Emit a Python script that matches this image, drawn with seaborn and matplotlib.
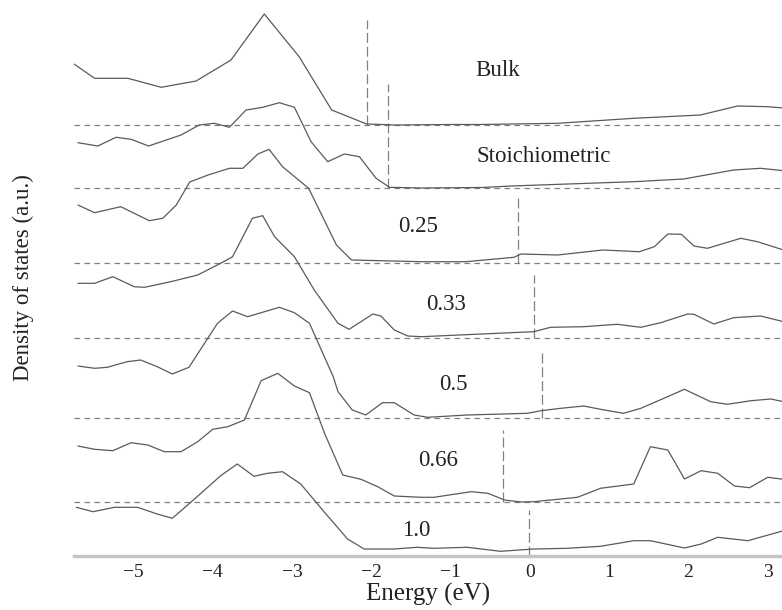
import numpy as np
import pandas as pd
import matplotlib
matplotlib.use("Agg")
import matplotlib.pyplot as plt
import seaborn as sns

# ---------------- data (energy in eV, DOS in arbitrary units) ----------------
labels = ["Bulk", "Stoichiometric", "0.25", "0.33", "0.5", "0.66", "1.0"]
offsets = [431, 368, 293, 218, 138, 54, 0]
fermi_E = [-2.06, -1.79, -0.155, 0.05, 0.15, -0.34, -0.01]
fermi_h = [105, 104, 65, 63, 66, 72, 46]

bulk_E = [-5.75, -5.49, -5.07, -4.65, -4.21, -3.77, -3.35, -2.91, -2.50, -2.06, -1.70,
          -1.00, -0.62, 0.35, 1.31, 2.15, 2.62, 3.00, 3.20]
bulk_dos = [61, 46.7, 46.7, 37.7, 44, 65, 111, 68.3, 15, 1, 0,
            0.5, 0.5, 1.7, 6.7, 10, 19, 18.3, 17]

stoich_E = [-5.70, -5.45, -5.22, -5.03, -4.81, -4.40, -4.17, -3.98, -3.79, -3.58, -3.37,
            -3.16, -2.97, -2.76, -2.55, -2.34, -2.15, -1.94, -1.77, -1.37, -0.60, -0.24,
            1.31, 1.94, 2.57, 2.91, 3.20]
stoich_dos = [45.3, 42, 50.7, 48.7, 42, 53, 63, 64.7, 60.7, 78, 80.7,
              85.3, 80.7, 46.3, 26.3, 34, 31.3, 9.7, 0.7, 0, 0.5, 2,
              6.3, 9, 18, 19.7, 17.3]

x025_E = [-5.70, -5.49, -5.16, -4.80, -4.63, -4.46, -4.29, -4.06, -3.79, -3.62, -3.43,
          -3.29, -3.12, -2.79, -2.44, -2.25, -1.37, -0.81, -0.20, -0.11, 0.35, 0.92,
          1.38, 1.57, 1.74, 1.91, 2.07, 2.24, 2.66, 2.87, 3.20]
x025_dos = [58, 50.3, 56.3, 42.3, 44.7, 58, 81, 88, 94.7, 94.7, 109,
            113.7, 96.3, 74.7, 18, 3, 1.3, 1.3, 5.7, 9, 8, 13,
            11.3, 16.3, 29, 28.7, 17, 14.7, 24.7, 21.3, 13]

x033_E = [-5.70, -5.49, -5.26, -4.99, -4.86, -4.53, -4.19, -3.90, -3.75, -3.50, -3.37,
          -3.22, -2.97, -2.72, -2.42, -2.28, -1.98, -1.88, -1.71, -1.54, -1.37, -0.24,
          0.05, 0.26, 0.68, 1.10, 1.40, 1.65, 1.99, 2.07, 2.32, 2.57, 2.91, 3.20]
x033_dos = [54.7, 54.7, 61.3, 51.3, 50.7, 56.3, 63, 74.7, 81.3, 119.7, 122.3,
            101.3, 81.3, 48, 14.7, 8.7, 24, 22, 8, 2, 1.3, 5.3,
            6.3, 10.7, 11.3, 13.7, 10.7, 15.3, 24, 23.7, 14, 20.3, 22, 16.3]

x05_E = [-5.70, -5.49, -5.33, -5.08, -4.91, -4.70, -4.51, -4.30, -3.94, -3.75, -3.56,
         -3.16, -2.97, -2.78, -2.48, -2.42, -2.24, -2.07, -1.86, -1.71, -1.46, -1.29,
         -0.79, -0.03, 0.14, 0.39, 0.68, 0.89, 1.18, 1.40, 1.95, 2.28, 2.49, 2.79,
         3.04, 3.20]
x05_dos = [52, 49.7, 50.7, 56.3, 58, 51.3, 44, 50.7, 94.7, 107, 101.3,
           110.7, 105.3, 94.7, 41.3, 26.3, 8, 3, 15.3, 15.3, 3, 0.7,
           3, 4.7, 7.3, 9.7, 12, 8.7, 4.7, 9.7, 28.7, 16.3, 13.7, 17.3,
           19, 16.3]

x066_E = [-5.70, -5.49, -5.26, -5.03, -4.82, -4.61, -4.40, -4.19, -4.00, -3.81, -3.60,
          -3.39, -3.18, -2.97, -2.78, -2.59, -2.36, -2.13, -1.92, -1.71, -1.37, -1.21,
          -0.74, -0.53, -0.32, -0.11, 0.05, 0.60, 0.89, 1.31, 1.52, 1.74, 1.95, 2.16,
          2.37, 2.58, 2.77, 3.00, 3.20]
x066_dos = [56, 52.7, 51.3, 59.3, 57, 50.3, 50.3, 60.3, 72.7, 75.3, 82,
            121.3, 128.7, 116, 109.3, 68.7, 27, 22.7, 15.3, 6, 4.7, 4.7,
            10.3, 8.7, 2, 0, 0.3, 4.7, 13.7, 18, 55.3, 52, 23, 31.3,
            28.7, 16, 14.3, 24.7, 22.7]

x10_E = [-5.72, -5.51, -5.24, -4.95, -4.70, -4.51, -4.23, -3.90, -3.69, -3.48, -3.31,
         -3.12, -2.89, -2.59, -2.30, -2.09, -1.71, -1.42, -1.21, -0.79, -0.37, 0.05,
         0.47, 0.89, 1.31, 1.52, 1.95, 2.16, 2.37, 2.75, 3.20]
x10_dos = [48.7, 44.3, 48.7, 48.7, 42, 37.7, 57, 80.3, 92, 79.7, 82.7,
           84.3, 72, 43.7, 17, 7, 7, 8.7, 7.7, 8.7, 4.7, 7,
           7.7, 9.7, 15.3, 15.3, 8, 12, 18.7, 15.3, 25.3]

xticks = [-5, -4, -3, -2, -1, 0, 1, 2, 3]

curves_E = [bulk_E, stoich_E, x025_E, x033_E, x05_E, x066_E, x10_E]
curves_dos = [bulk_dos, stoich_dos, x025_dos, x033_dos, x05_dos, x066_dos, x10_dos]

# ---------------- build a long table ----------------
frames = []
for lab, off, E, d in zip(labels, offsets, curves_E, curves_dos):
    frames.append(pd.DataFrame({"Energy": E, "DOS": np.asarray(d) + off, "sample": lab}))
df = pd.concat(frames, ignore_index=True)

# ---------------- figure ----------------
sns.set_theme(style="white")
plt.rcParams["font.family"] = ["Liberation Serif", "DejaVu Serif"]
plt.rcParams["axes.unicode_minus"] = True

fig = plt.figure(figsize=(7.82, 6.10), dpi=100)
ax = fig.add_axes([74 / 782, (610 - 556) / 610, (782 - 74) / 782, 556 / 610])

line_col = "#5a5a5a"
dash_col = "#808080"

for lab, off in zip(labels, offsets):
    if off > 0:
        ax.axhline(off, color=dash_col, lw=0.9, ls=(0, (4.5, 3.5)), zorder=1)

sns.lineplot(data=df, x="Energy", y="DOS", units="sample", estimator=None,
             color=line_col, lw=0.9, sort=False, ax=ax, zorder=3, legend=False)

for off, ef, h in zip(offsets, fermi_E, fermi_h):
    ax.plot([ef, ef], [off, off + h], color=dash_col, lw=0.9,
            ls=(0, (8, 3)), zorder=2)

label_pos = [(-0.40, 485), (0.18, 399), (-1.41, 329), (-1.06, 251),
             (-0.97, 171), (-1.16, 96), (-1.43, 26)]
for lab, (px, py) in zip(labels, label_pos):
    ax.text(px, py, lab, ha="center", va="center", fontsize=16.5, color="#222222")

ax.set_xlim(-5.75, 3.18)
ax.set_ylim(0, 556)
ax.set_xticks(xticks)
ax.set_yticks([])
for s in ["top", "left", "right"]:
    ax.spines[s].set_visible(False)
ax.spines["bottom"].set_color("#c4c4c4")
ax.spines["bottom"].set_linewidth(2.5)
ax.tick_params(axis="x", direction="in", length=4, width=0.8, color="#888888",
               labelsize=14, labelcolor="#222222", pad=6)
ax.set_xlabel("Energy (eV)", fontsize=18, color="#222222", labelpad=1)
ax.set_ylabel("Density of states (a.u.)", fontsize=16.5, color="#222222", labelpad=29)

fig.savefig("out.png", dpi=100)
